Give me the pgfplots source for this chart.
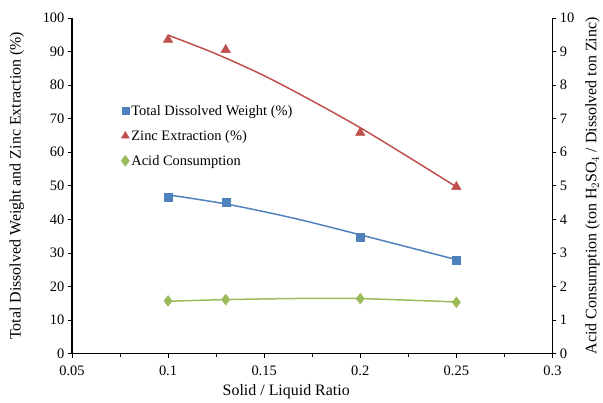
\documentclass[border=0pt]{standalone}
\usepackage{pgfplots}
\pgfplotsset{compat=1.18}
\usepackage{fontspec}
\setmainfont{Liberation Serif}
\usetikzlibrary{calc}
\definecolor{cblue}{HTML}{4F81BD}
\definecolor{cred}{HTML}{C0504D}
\definecolor{cgreen}{HTML}{9BBB59}
\begin{document}
\begin{tikzpicture}
\pgfplotsset{
  every axis/.append style={
    scale only axis, width=481bp, height=336bp,
    xmin=0.05, xmax=0.3,
    font=\fontsize{14.5}{17}\selectfont,
    label style={font=\fontsize{16}{18}\selectfont},
    /pgf/number format/assume math mode=true,
    tick align=outside, tick style={black, line width=0.8pt},
    major tick length=4bp, minor tick length=3bp,
    axis line style={black, line width=1.4pt},
  }
}
\begin{axis}[
  name=ax,
  axis x line*=bottom, axis y line*=left,
  ymin=0, ymax=100,
  xtick={0.05,0.1,0.15,0.2,0.25,0.3},
  minor xtick={0.075,0.125,0.175,0.225,0.275},
  xticklabels={0.05,0.1,0.15,0.2,0.25,0.3},
  xticklabel style={yshift=-5bp},
  ytick={0,10,...,100},
  xlabel={Solid / Liquid Ratio},
  ylabel={Total Dissolved Weight and Zinc Extraction (\%)},
  xlabel style={yshift=-2bp, xshift=-26bp},
  ylabel style={yshift=12bp},
]
\addplot[cred, line width=1.5pt, smooth, no marks] coordinates {
  (0.1,94.9) (0.125,89.3) (0.15,82.8) (0.175,75.3) (0.2,67.3) (0.225,58.6) (0.25,49.7)};
\addplot[only marks, mark=triangle*, mark size=5.5bp, color=cred] coordinates {
  (0.1,93.5) (0.13,90.5) (0.2,65.8) (0.25,49.7)};
\addplot[cblue, line width=1.5pt, smooth, no marks] coordinates {
  (0.1,47.3) (0.13,44.6) (0.165,40.4) (0.2,35.4) (0.25,28.0)};
\addplot[only marks, mark=square*, mark size=4bp, color=cblue] coordinates {
  (0.1,46.6) (0.13,45.2) (0.2,34.6) (0.25,27.9)};
\end{axis}
\begin{axis}[
  axis x line=none, axis y line*=right,
  ymin=0, ymax=10, ytick={0,1,...,10},
  ylabel={Acid Consumption (ton H$_2$SO$_4$ / Dissolved ton Zinc)},
  ylabel style={yshift=-4bp},
  legend style={draw=none, fill=none, at={(rel axis cs:0.1,0.75)}, anchor=north west,
    font=\fontsize{14.5}{17}\selectfont, row sep=9.5bp, inner sep=1bp},
  legend cell align=left,
]
\addlegendimage{only marks, mark=square*, mark size=3.5bp, color=cblue}
\addlegendentry{Total Dissolved Weight (\%)}
\addlegendimage{only marks, mark=triangle*, mark size=4.5bp, color=cred}
\addlegendentry{Zinc Extraction (\%)}
\addplot[cgreen, line width=1.5pt, smooth, no marks, forget plot] coordinates {
  (0.1,1.56) (0.13,1.61) (0.17,1.645) (0.2,1.64) (0.25,1.54)};
\addplot[only marks, mark=diamond*, mark size=5.5bp, color=cgreen] coordinates {
  (0.1,1.57) (0.13,1.61) (0.2,1.64) (0.25,1.53)};
\addlegendentry{Acid Consumption}
\end{axis}
\path[use as bounding box] ($(ax.south west)+(-72bp,-47bp)$) rectangle ($(ax.north east)+(50bp,18bp)$);
\end{tikzpicture}
\end{document}
